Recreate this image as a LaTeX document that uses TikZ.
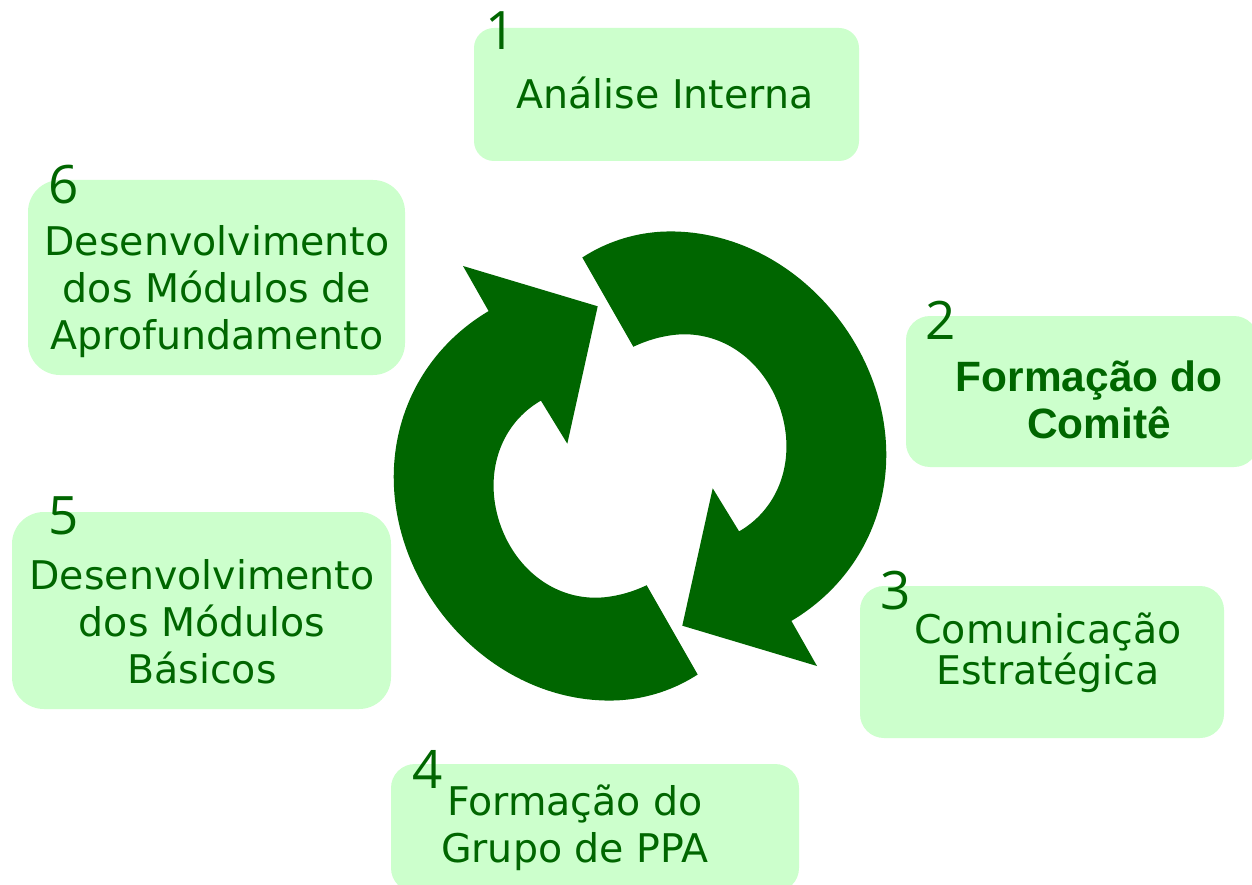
\documentclass[tikz,border=0pt]{standalone}
\usepackage{fontspec}
\setmainfont{DejaVu Sans}
\newfontfamily\boldf{Liberation Sans}
\newfontfamily\numf{Open Sans}
\definecolor{boxg}{HTML}{CCFFCC}
\definecolor{darkg}{HTML}{006600}
\tikzset{
  x=1pt,y=-1pt,
  boxtext/.style={text=darkg,align=center,font=\fontsize{39.5}{47}\selectfont,inner sep=0pt},
  boldtext/.style={text=darkg,align=center,font=\boldf\bfseries\fontsize{42.4}{47}\selectfont,inner sep=0pt},
  numtext/.style={text=darkg,font=\numf\fontsize{53}{53}\selectfont,inner sep=0pt},
  declare function={
    rout(\t)=210.3+3.7*cos(2.8*(\t-28))-3.7*(min(\t+91,0)/25)^2;
    rinn(\t)=104.6+2.2*cos(2.8*(\t-45))+2.2*(min(\t+95,0)/23)^2;
  },
}
\newcommand{\ringarrow}{%
  \fill[darkg] plot[domain=-116.3:56.5,samples=140] ({675+rout(\x)*cos(\x)},{445+rout(\x)*sin(\x)})
    -- (792,622) -- (817,666) -- (682.3,625.7) -- (712.7,488.3) -- (739.3,531.7)
    -- plot[domain=58.2:-117.8,samples=120] ({683+rinn(\x)*cos(\x)},{441+rinn(\x)*sin(\x)})
    -- (633.3,346.7) -- cycle;}
\begin{document}
\begin{tikzpicture}
\useasboundingbox (0,0) rectangle (1252,885);
\clip (0,0) rectangle (1252,885);
\fill[white] (0,0) rectangle (1252,885);
\ringarrow
\begin{scope}[rotate around={180:(640,466)}]\ringarrow\end{scope}
\fill[boxg,rounded corners=20pt] (474,28) rectangle (859,161);
\fill[boxg,rounded corners=24pt] (906,316) rectangle (1258,467);
\fill[boxg,rounded corners=24pt] (860,586) rectangle (1224,738);
\fill[boxg,rounded corners=24pt] (391,764) rectangle (799,892);
\fill[boxg,rounded corners=32pt] (12,512) rectangle (391,709);
\fill[boxg,rounded corners=32pt] (28,180) rectangle (405,375);
\node[boxtext] (t1) at (665,93) {Análise Interna};
\node[boldtext] (t2) at (1089,400) {Formação do\\\hspace*{20pt}Comitê};
\node[boxtext,font=\fontsize{39.5}{41}\selectfont] (t3) at (1048,653) {Comunicação\\Estratégica};
\node[boxtext] (t4) at (575,828) {Formação do\\Grupo de PPA};
\node[boxtext] (t5) at (202,622) {Desenvolvimento\\dos Módulos\\Básicos};
\node[boxtext] (t6) at (217,292) {Desenvolvimento\\dos Módulos de\\Aprofundamento};
\node[numtext] (n1) at (501,31) {1};
\node[numtext] (n2) at (941,320) {2};
\node[numtext] (n3) at (896,591) {3};
\node[numtext] (n4) at (428,769) {4};
\node[numtext] (n5) at (64,516) {5};
\node[numtext] (n6) at (64,185) {6};
\end{tikzpicture}
\end{document}
